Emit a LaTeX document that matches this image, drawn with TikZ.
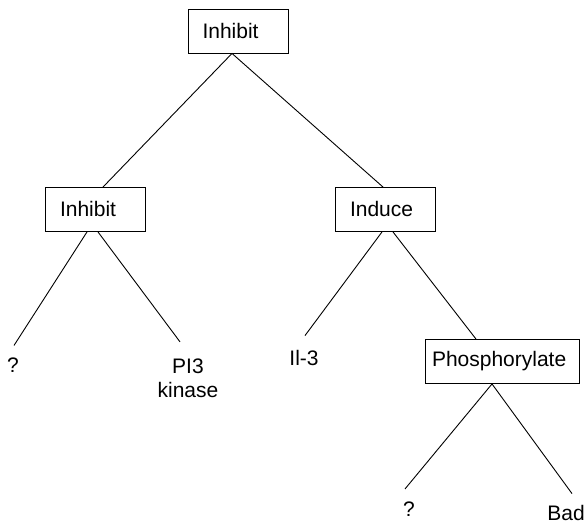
\documentclass[tikz,border=0pt]{standalone}
\usepackage{fontspec}
\setmainfont{Liberation Sans}

\begin{document}
\begin{tikzpicture}[x=1pt, y=1pt,
	every node/.style={font=\fontsize{21}{24}\selectfont},
	box/.style={draw, line width=0.9pt, minimum height=44pt, align=left, text width=#1, inner xsep=14.5pt},
	box/.default=71pt,
	leaf/.style={inner sep=0pt, align=center},
	link/.style={line width=0.9pt}]
	\useasboundingbox (0,0) rectangle (587,524);
	% boxes
	\node[box] (top) at (238,493) {Inhibit};
	\node[box] (inhL) at (95.5,314.5) {Inhibit};
	\node[box] (induce) at (385.5,314.5) {Induce};
	\node[box=140pt, inner xsep=7pt] (phos) at (502,162.5) {Phosphorylate};
	% leaves
	\node[leaf] (q1) at (13,159) {?};
	\node[leaf] (pi3) at (188,145.5) {PI3\\kinase};
	\node[leaf] (il3) at (304,165.5) {Il-3};
	\node[leaf] (q2) at (409,14.5) {?};
	\node[leaf] (bad) at (566,11) {Bad};
	% branches
	\draw[link] ([xshift=7.5pt]inhL.north) -- ([xshift=-6pt]top.south) -- ([xshift=-2.5pt]induce.north);
	\draw[link] ([shift={(1pt,12pt)}]q1.north) -- ([xshift=-8.5pt]inhL.south);
	\draw[link] ([xshift=2.5pt]inhL.south) -- ([shift={(-8pt,17pt)}]pi3.north);
	\draw[link] ([shift={(1pt,15pt)}]il3.north) -- ([xshift=-3.5pt]induce.south);
	\draw[link] ([xshift=7.5pt]induce.south) -- ([xshift=-26pt]phos.north);
	\draw[link] ([shift={(-4pt,13pt)}]q2.north) -- ([xshift=-10pt]phos.south) -- ([shift={(6pt,11.5pt)}]bad.north);
\end{tikzpicture}
\end{document}
